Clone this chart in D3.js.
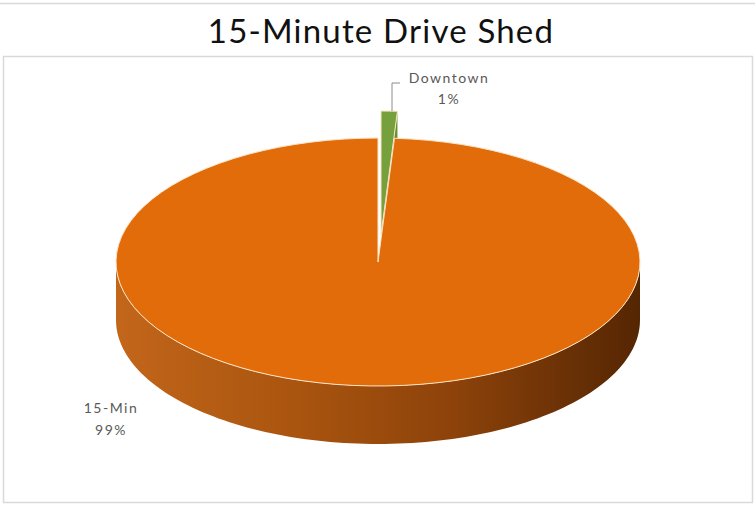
<!DOCTYPE html>
<html>
<head>
<meta charset="utf-8">
<script src="https://cdn.jsdelivr.net/npm/d3@7"></script>
<style>
  html, body { margin: 0; padding: 0; background: #fff; }
  svg { display: block; }
  text { font-family: Lato, "Open Sans", sans-serif; }
</style>
</head>
<body>
<svg id="chart" width="755" height="505"></svg>
<script>
// Share of the 15-minute drive shed
const title = "15-Minute Drive Shed";
const categories = ["Downtown", "15-Min"];
const values = [1, 99];
const percentLabels = ["1%", "99%"];

const W = 755, H = 505;
const svg = d3.select("#chart");

// frame lines
svg.append("line").attr("x1", 0).attr("x2", W).attr("y1", 3.5).attr("y2", 3.5)
  .attr("stroke", "#d9d9d9").attr("stroke-width", 1.5);
svg.append("rect").attr("x", 3.5).attr("y", 56.5).attr("width", 749).attr("height", 446)
  .attr("fill", "none").attr("stroke", "#d9d9d9").attr("stroke-width", 1.5);

svg.append("text").attr("x", 381).attr("y", 43).attr("text-anchor", "middle")
  .attr("font-size", 33).attr("letter-spacing", 1.2).attr("fill", "#111").text(title);

// 3D pie geometry: top ellipse, wall depth, exploded first slice
const cx = 378, cy = 262, rx = 262, ry = 124, depth = 58;
const explodeDx = 3, explodeDy = -27;
const topColors = ["#76a03c", "#e36c0a"];
const cutColors = ["#66902f", "#a84f08"];

const pie = d3.pie().sort(null).startAngle(0).endAngle(2 * Math.PI);
const slices = pie(values);

const defs = svg.append("defs");
const grad = defs.append("linearGradient").attr("id", "wallGrad")
  .attr("gradientUnits", "userSpaceOnUse")
  .attr("x1", cx - rx).attr("x2", cx + rx).attr("y1", 0).attr("y2", 0);
[["0%", "#c2661a"], ["35%", "#a9540f"], ["65%", "#8c420a"], ["85%", "#6c3206"], ["100%", "#552603"]]
  .forEach(([o, c]) => grad.append("stop").attr("offset", o).attr("stop-color", c));

const px = a => cx + rx * Math.sin(a);
const py = a => cy - ry * Math.cos(a);
const line = d3.line();
const arcGen = d3.arc().innerRadius(0).outerRadius(rx);

// outer wall of a slice, limited to the front half of the ellipse
function wallPoints(a0, a1) {
  const s = Math.max(a0, Math.PI / 2), e = Math.min(a1, 3 * Math.PI / 2);
  if (e <= s) return null;
  const angs = d3.range(s, e, (e - s) / 120).concat([e]);
  const topPts = angs.map(a => [px(a), py(a)]);
  const botPts = angs.slice().reverse().map(a => [px(a), py(a) + depth]);
  return topPts.concat(botPts);
}

function drawSlice(d, i, offset) {
  const g = svg.append("g").attr("transform", `translate(${offset[0]},${offset[1]})`);
  const a1 = d.endAngle;
  // radial cut face at the end angle, when it faces the viewer
  if (Math.cos(a1 + Math.PI / 2) < 0 && d.endAngle < 2 * Math.PI - 1e-6) {
    g.append("path")
      .attr("d", line([[cx, cy], [px(a1), py(a1)], [px(a1), py(a1) + depth], [cx, cy + depth]]) + "Z")
      .attr("fill", cutColors[i]);
  }
  const wp = wallPoints(d.startAngle, d.endAngle);
  if (wp) {
    g.append("path").attr("d", line(wp) + "Z").attr("fill", "url(#wallGrad)");
  }
  g.append("path")
    .attr("d", arcGen(d))
    .attr("transform", `translate(${cx},${cy}) scale(1,${ry / rx})`)
    .attr("fill", topColors[i])
    .attr("stroke", "#fbe6c8")
    .attr("stroke-width", 1)
    .attr("vector-effect", "non-scaling-stroke");
}

drawSlice(slices[0], 0, [explodeDx, explodeDy]);
drawSlice(slices[1], 1, [0, 0]);

// data labels
const labelColor = "#595959";
svg.append("path").attr("d", line([[392, 111], [392, 83], [400, 83]]))
  .attr("fill", "none").attr("stroke", "#8c8c8c").attr("stroke-width", 1);

const labelPos = [[449, 83, 104], [111, 413, 435]];
categories.forEach((c, i) => {
  const [x, y1, y2] = labelPos[i];
  svg.append("text").attr("x", x).attr("y", y1).attr("text-anchor", "middle")
    .attr("font-size", 14).attr("letter-spacing", 1.5).attr("fill", labelColor).text(c);
  svg.append("text").attr("x", x).attr("y", y2).attr("text-anchor", "middle")
    .attr("font-size", 14).attr("letter-spacing", 1.5).attr("fill", labelColor).text(percentLabels[i]);
});
</script>
</body>
</html>
